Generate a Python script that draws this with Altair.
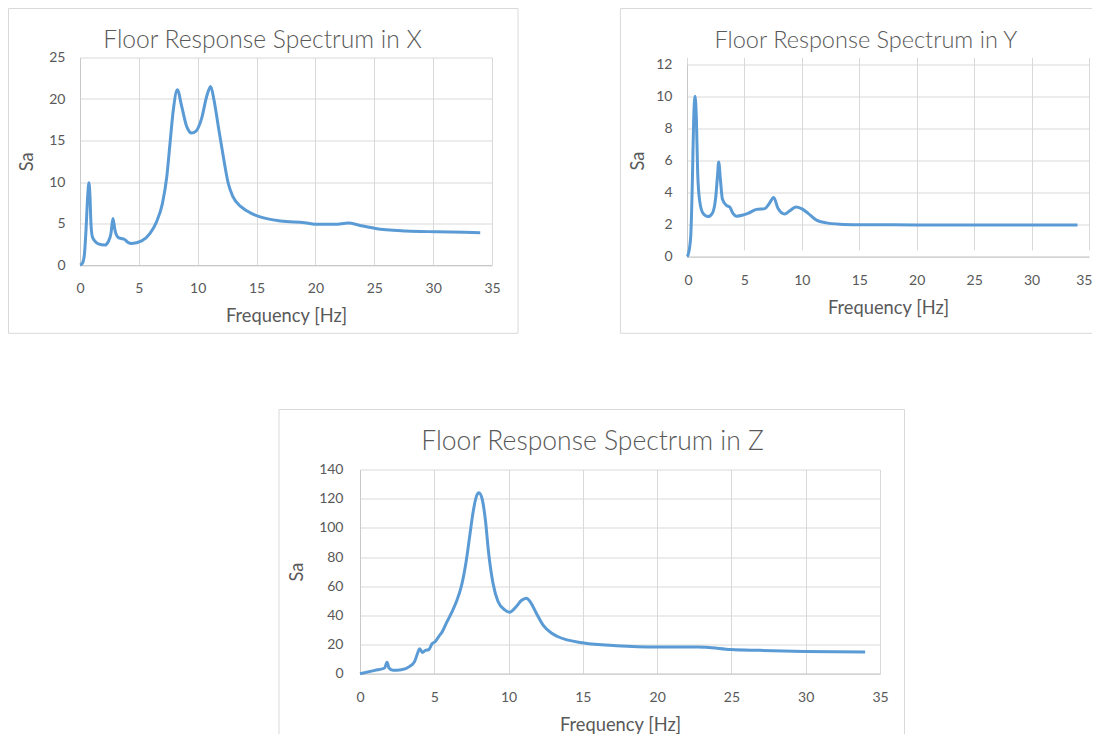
import altair as alt
import pandas as pd

# ---------------- data ----------------
x_freq = [0, 0.2, 0.37, 0.51, 0.65, 0.76, 0.85, 0.93, 1.05, 1.25, 1.56, 2.12, 2.4, 2.63, 2.8,
          2.97, 3.26, 3.5, 3.77, 4.1, 4.39, 5.24, 5.95, 6.5, 7.0, 7.37, 7.65, 7.93, 8.27,
          8.64, 9.06, 9.49, 9.83, 10.34, 10.76, 11.1, 11.38, 11.75, 12.18, 12.6, 13.0,
          13.7, 14.6, 15.3, 17.05, 19.07, 20.2, 21.65, 22.8, 23.7, 25.1, 27.7, 30.3, 34.0]
x_sa = [0, 0.2, 1.2, 4.2, 8.2, 9.9, 8.2, 5.0, 3.4, 2.9, 2.55, 2.4, 2.8, 3.8, 5.6,
        4.2, 3.3, 3.2, 3.1, 2.7, 2.6, 2.9, 3.8, 5.2, 7.4, 10.6, 14.7, 18.7, 21.1,
        19.1, 16.7, 15.9, 16.1, 17.7, 20.3, 21.5, 19.9, 16.7, 13.0, 9.8, 8.2,
        7.0, 6.2, 5.8, 5.3, 5.1, 4.9, 4.9, 5.06, 4.8, 4.4, 4.1, 4.0, 3.9]

y_freq = [0, 0.09, 0.32, 0.47, 0.58, 0.7, 0.82, 0.93, 1.1, 1.4, 1.83, 2.2, 2.5, 2.65, 2.76,
          2.91, 3.08, 3.43, 3.72, 4.0, 4.3, 4.88, 5.3, 6.05, 6.77, 7.15, 7.55, 7.93, 8.5,
          8.95, 9.47, 9.97, 10.55, 11.27, 12.15, 13.3, 15.0, 20.0, 25.0, 30.0, 34.0]
y_sa = [0, 0.1, 1.2, 4.8, 8.5, 10.0, 8.5, 5.2, 3.5, 2.7, 2.5, 2.7, 3.7, 5.0, 5.9,
        4.8, 3.6, 3.2, 3.1, 2.7, 2.53, 2.6, 2.7, 2.95, 3.0, 3.3, 3.7, 3.0, 2.66,
        2.86, 3.1, 3.0, 2.7, 2.28, 2.11, 2.03, 2.0, 1.98, 1.97, 1.97, 1.97]

z_freq = [0, 1.0, 1.66, 1.82, 1.95, 2.22, 2.78, 3.35, 3.68, 3.84, 4.02, 4.2, 4.4, 4.62,
          4.85, 5.07, 5.3, 5.52, 5.81, 6.15, 6.49, 6.82, 7.16, 7.38, 7.6, 7.83, 8.0, 8.21,
          8.44, 8.66, 8.95, 9.29, 9.74, 10.07, 10.52, 10.86, 11.2, 11.49, 11.87, 12.31,
          12.88, 13.3, 15.07, 17.26, 20.0, 22.76, 23.3, 24.96, 26.9, 29.9, 34.0]
z_sa = [0, 2.3, 3.9, 7.8, 3.9, 2.3, 2.7, 5.0, 8.4, 13.0, 17.1, 14.6, 16.0, 16.4,
        20.5, 22.1, 25.5, 28.5, 34.7, 41.5, 49.5, 59.8, 78.0, 94.0, 110.0, 121.4, 124.1, 120.3,
        105.4, 82.6, 62.1, 49.5, 43.8, 42.2, 46.1, 50.2, 51.8, 48.8, 41.5, 33.5,
        27.9, 25.5, 21.0, 19.2, 18.3, 18.3, 18.1, 16.6, 16.0, 15.3, 14.8]

x_ticks = [0, 5, 10, 15, 20, 25, 30, 35]
titles = ["Floor Response Spectrum in X", "Floor Response Spectrum in Y",
          "Floor Response Spectrum in Z"]

# ---------------- styling ----------------
LINE = "#5B9BD5"
GRID = "#D9D9D9"
DOMAIN = "#C9C9C9"
BOX = "#D9D9D9"
TEXT = "#595959"
FONT = "Lato"
ONE = pd.DataFrame({"a": [0]})


def rule(**enc):
    return alt.Chart(ONE).mark_rule(color=BOX, strokeWidth=1).encode(**enc)


def panel(freq, sa, ymax, ystep, title, w, h, box, dx, ylp, ytp, tsize, toff,
          top=0.0, flush=False):
    df = pd.DataFrame({"f": freq, "sa": sa})
    L, R, T, B, sides = box
    layers = []
    if "t" in sides:
        layers.append(rule(x=alt.value(L), x2=alt.value(R), y=alt.value(T)))
    if "b" in sides:
        layers.append(rule(x=alt.value(L), x2=alt.value(R), y=alt.value(B)))
    if "l" in sides:
        layers.append(rule(x=alt.value(L), y=alt.value(T), y2=alt.value(B)))
    if "r" in sides:
        layers.append(rule(x=alt.value(R), y=alt.value(T), y2=alt.value(B)))
    yscale = alt.Scale(domain=[0, ymax], nice=False, range=[h, top]) if top else \
        alt.Scale(domain=[0, ymax], nice=False)
    xaxis_kw = dict(values=x_ticks, title="Frequency [Hz]", labelPadding=16.5,
                    titlePadding=12)
    if flush:
        xaxis_kw.update(labelFlush=True, labelFlushOffset=3)
    line = alt.Chart(df).mark_line(color=LINE, strokeWidth=3, interpolate="monotone").encode(
        x=alt.X("f:Q", scale=alt.Scale(domain=[0, 35], nice=False),
                axis=alt.Axis(**xaxis_kw)),
        y=alt.Y("sa:Q", scale=yscale,
                axis=alt.Axis(values=list(range(0, ymax + 1, ystep)), title="Sa",
                              labelPadding=ylp, titlePadding=ytp)),
    )
    layers.append(line)
    return alt.layer(*layers).properties(
        width=w, height=h,
        title=alt.TitleParams(text=title, anchor="middle", frame="group", offset=toff,
                              dx=dx, baseline="alphabetic", fontSize=tsize, font=FONT,
                              fontWeight=300, color=TEXT),
    )


px = panel(x_freq, x_sa, 25, 5, titles[0], 412, 207.5,
           (-71.5, 438, -49, 275.8, "tblr"), -23.5, 15, 12.6, 24.6, -64.9)
py = panel(y_freq, y_sa, 12, 2, titles[1], 402, 199.2,
           (-66.6, 414, -49, 275.8, "tbl"), -22.1, 15, 8.6, 23.5, -63.8,
           top=6.8, flush=True)
pz = panel(z_freq, z_sa, 140, 20, titles[2], 520, 204.2,
           (-81, 544.5, -60, 275, "tlr"), -27.5, 17, 12.6, 26.5, -67.5)

spacer = alt.Chart(ONE).mark_rule(color="white", strokeWidth=1).encode(
    x=alt.value(0), y=alt.value(0), y2=alt.value(1)
).properties(width=198, height=1)

row1 = alt.hconcat(px, py, spacing=100)
row2 = alt.hconcat(spacer, pz, spacing=0)
chart = alt.vconcat(row1, row2, spacing=74).properties(
    autosize=alt.AutoSizeParams(type="none"),
    padding={"left": 72, "top": 49.5, "right": 1012, "bottom": 676.5},
    background="white",
).configure_view(stroke=None).configure_axis(
    labelFont=FONT, labelFontSize=14, labelColor=TEXT, labelFlush=False, labelOverlap=False,
    titleFont=FONT, titleFontSize=18.3, titleColor=TEXT, titleFontWeight="normal",
    ticks=False, tickSize=0, domainColor=DOMAIN, domainWidth=1,
    gridColor=GRID, gridWidth=1,
)

chart.save("out.html", embed_options={"renderer": "svg", "actions": False})
